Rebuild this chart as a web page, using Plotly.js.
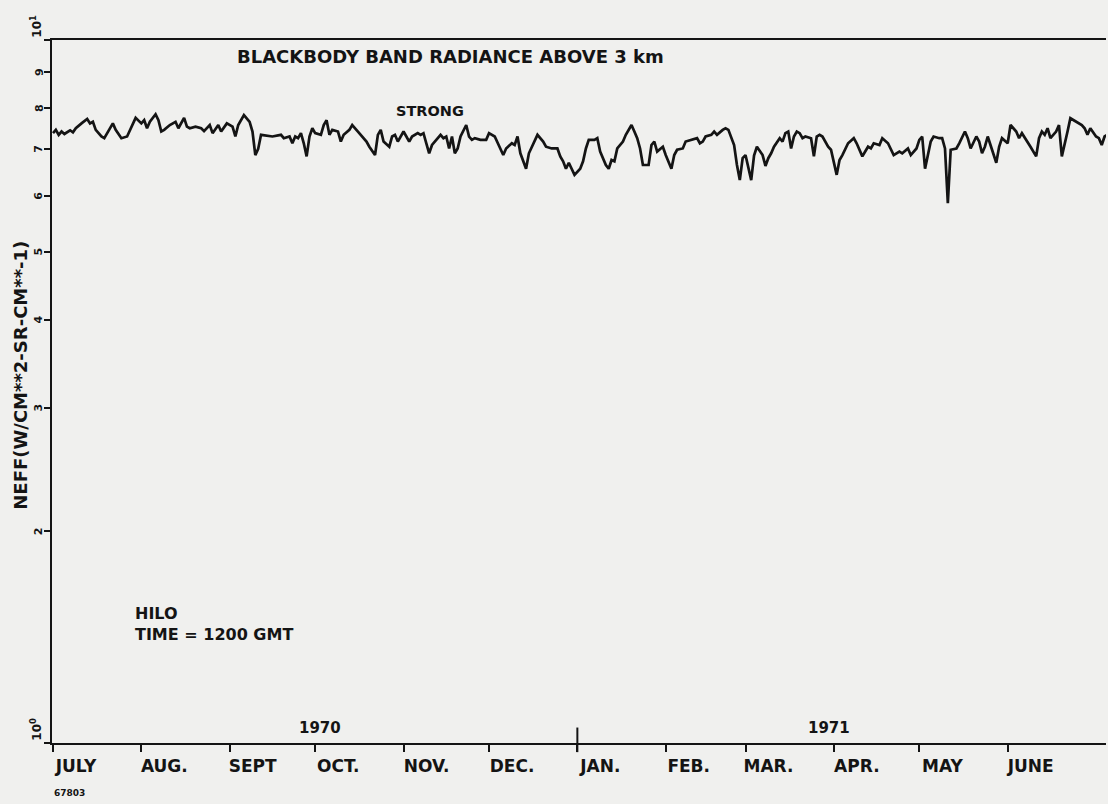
<!DOCTYPE html>
<html>
<head>
<meta charset="utf-8">
<script src="https://cdn.plot.ly/plotly-3.0.1.min.js"></script>
<style>html,body{margin:0;padding:0;background:#f0f0ee;}#chart{width:1108px;height:804px;}</style>
</head>
<body>
<div id="chart"></div>
<script>
// Days since 1 July 1970
const dayOffset = [0,1,2,3,4,6,7,8,10,12,13,14,15,17,18,20,21,22,24,26,28,29,31,32,33,34,36,37,38,39,41,43,44,46,47,48,50,52,53,55,56,58,59,61,63,64,65,66,67,69,70,71,72,73,75,77,80,81,83,84,85,86,87,88,89,90,91,92,94,95,96,97,98,100,101,102,104,105,107,108,110,111,113,114,115,116,118,119,120,121,122,123,124,125,126,128,129,130,131,132,133,135,136,137,138,139,140,141,142,143,145,146,147,148,150,152,153,155,157,158,159,161,162,163,164,166,167,169,170,172,173,175,177,178,179,180,181,183,185,186,187,188,190,191,192,194,195,196,197,198,200,201,203,204,205,206,207,209,210,211,212,214,215,217,218,219,221,222,224,226,227,228,229,231,232,233,235,236,237,238,239,240,241,242,243,245,246,247,248,249,250,251,252,253,255,256,257,258,259,260,261,262,263,264,266,267,268,269,270,272,273,274,275,276,277,279,281,282,284,285,286,287,288,290,291,293,294,295,297,298,300,301,303,304,305,306,308,309,311,312,313,314,315,317,318,320,321,322,324,325,326,327,328,329,331,332,333,335,336,338,339,340,342,343,345,346,347,348,349,350,352,353,354,355,356,357,359,361,362,363,364,366,367,368,369,370];
// NEFF, W/CM**2-SR-CM**-1
const neff = [7.37,7.45,7.33,7.41,7.35,7.44,7.39,7.49,7.61,7.72,7.61,7.65,7.45,7.29,7.25,7.49,7.61,7.45,7.25,7.29,7.57,7.75,7.61,7.69,7.49,7.65,7.84,7.69,7.41,7.45,7.57,7.65,7.49,7.75,7.53,7.49,7.53,7.49,7.42,7.57,7.37,7.57,7.41,7.61,7.53,7.29,7.57,7.69,7.82,7.65,7.41,6.86,7.00,7.33,7.31,7.29,7.33,7.25,7.29,7.13,7.29,7.25,7.37,7.13,6.83,7.29,7.49,7.37,7.33,7.57,7.69,7.33,7.45,7.41,7.17,7.33,7.45,7.57,7.41,7.33,7.17,7.05,6.86,7.33,7.45,7.17,7.05,7.29,7.33,7.17,7.29,7.41,7.29,7.17,7.29,7.37,7.33,7.37,7.13,6.90,7.09,7.25,7.33,7.25,7.29,7.01,7.29,6.90,7.01,7.29,7.57,7.29,7.21,7.25,7.21,7.21,7.37,7.29,7.01,6.86,7.01,7.13,7.09,7.29,6.90,6.56,6.90,7.17,7.33,7.17,7.05,7.01,7.01,6.83,6.72,6.56,6.69,6.43,6.56,6.72,7.01,7.21,7.21,7.25,6.94,6.64,6.56,6.75,6.72,7.01,7.17,7.33,7.57,7.41,7.25,7.01,6.64,6.64,7.09,7.17,6.94,7.05,6.86,6.56,6.86,6.98,7.01,7.17,7.21,7.25,7.13,7.17,7.29,7.33,7.41,7.33,7.45,7.49,7.45,7.29,7.09,6.64,6.32,6.79,6.86,6.32,6.85,7.05,6.94,6.86,6.62,6.79,6.90,7.05,7.25,7.17,7.37,7.41,7.01,7.29,7.41,7.37,7.25,7.29,7.25,6.83,7.29,7.33,7.29,7.05,6.98,6.72,6.43,6.75,6.86,7.13,7.25,7.13,6.83,6.94,7.05,7.01,7.13,7.09,7.25,7.13,7.01,6.86,6.94,6.90,7.01,6.86,7.01,7.21,7.29,6.56,7.17,7.29,7.25,7.25,7.01,5.86,6.98,7.01,7.13,7.41,7.25,7.01,7.29,7.17,6.90,7.05,7.29,7.09,6.69,7.05,7.25,7.13,7.57,7.41,7.25,7.37,7.17,7.05,6.83,7.25,7.41,7.33,7.49,7.25,7.41,7.57,6.83,7.09,7.41,7.74,7.65,7.57,7.49,7.33,7.49,7.29,7.25,7.09,7.29,7.33];

const monthTicks = ['1970-07-01','1970-08-01','1970-09-01','1970-10-01','1970-11-01','1970-12-01','1971-01-01','1971-02-01','1971-03-01','1971-04-01','1971-05-01','1971-06-01'];
const monthLabels = ['JULY','AUG.','SEPT','OCT.','NOV.','DEC.','JAN.','FEB.','MAR.','APR.','MAY','JUNE'];
const yTickVals = [1,2,3,4,5,6,7,8,9,10];
const yTickText = ['10<sup>0</sup>','2','3','4','5','6','7','8','9','10<sup>1</sup>'];
const yearLabels = ['1970','1971'];

const base = Date.UTC(1970, 6, 1);
const dates = dayOffset.map(d => new Date(base + d * 86400000).toISOString().slice(0, 10));

const ink = '#141414';
const fam = '"DejaVu Sans", Arial, sans-serif';
const bold = (size) => ({family: fam, size: size, color: ink, weight: 'bold'});

const trace = {
  x: dates, y: neff, type: 'scatter', mode: 'lines',
  line: {color: ink, width: 2.7, shape: 'linear'},
  hoverinfo: 'skip', showlegend: false
};

// rotated y tick labels (log axis: annotation y is log10 of the value)
const yTickAnn = yTickVals.map((v, i) => {
  const isDecade = (v === 1 || v === 10);
  return {
    text: yTickText[i], xref: 'paper', yref: 'y',
    x: isDecade ? -0.016 : -0.0125, y: Math.log10(v),
    xanchor: 'center', yanchor: isDecade ? 'bottom' : 'middle',
    textangle: -90, showarrow: false, font: bold(isDecade ? 12 : 11)
  };
});

const layout = {
  width: 1108, height: 804,
  margin: {l: 52, r: 2, t: 40, b: 61},
  paper_bgcolor: '#f0f0ee', plot_bgcolor: '#f0f0ee',
  title: {text: 'BLACKBODY BAND RADIANCE ABOVE 3 km', font: bold(18),
          x: 0.378, xanchor: 'center', xref: 'paper', y: 0.929, yanchor: 'middle'},
  xaxis: {
    type: 'date', range: ['1970-06-30 15:36', '1971-07-05 12:00'],
    tickmode: 'array', tickvals: monthTicks, ticktext: monthLabels,
    ticks: 'outside', ticklen: 7, tickwidth: 2, tickcolor: ink,
    showline: true, linewidth: 2, linecolor: ink, mirror: true,
    showgrid: false, zeroline: false, tickangle: 0,
    tickfont: bold(17), ticklabelshift: 23, ticklabelstandoff: 0
  },
  yaxis: {
    type: 'log', range: [0, 1],
    tickmode: 'array', tickvals: yTickVals, ticktext: yTickText,
    showticklabels: false,
    ticks: 'outside', ticklen: 6, tickwidth: 2, tickcolor: ink,
    showline: true, linewidth: 2, linecolor: ink,
    showgrid: false, zeroline: false
  },
  shapes: [
    {type: 'line', xref: 'x', yref: 'paper', x0: monthTicks[6], x1: monthTicks[6],
     y0: -0.013, y1: 0.022, line: {color: ink, width: 2}}
  ],
  annotations: yTickAnn.concat([
    {text: 'NEFF(W/CM**2-SR-CM**-1)', xref: 'paper', yref: 'paper', x: -0.030, y: 0.523,
     xanchor: 'center', yanchor: 'middle', textangle: -90, showarrow: false, font: bold(18)},
    {text: 'STRONG', xref: 'paper', yref: 'paper', x: 0.359, y: 0.899,
     xanchor: 'center', yanchor: 'middle', showarrow: false, font: bold(14.5)},
    {text: 'HILO<br>TIME = 1200 GMT', xref: 'paper', yref: 'paper', x: 0.077, y: 0.169,
     xanchor: 'left', yanchor: 'middle', align: 'left', showarrow: false, font: bold(16)},
    {text: yearLabels[0], xref: 'paper', yref: 'paper', x: 0.254, y: 0.021,
     xanchor: 'center', yanchor: 'middle', showarrow: false, font: bold(15)},
    {text: yearLabels[1], xref: 'paper', yref: 'paper', x: 0.737, y: 0.021,
     xanchor: 'center', yanchor: 'middle', showarrow: false, font: bold(15)},
    {text: '67803', xref: 'paper', yref: 'paper', x: 0.0, y: -0.071,
     xanchor: 'left', yanchor: 'middle', showarrow: false, font: bold(9)}
  ])
};

Plotly.newPlot('chart', [trace], layout, {displayModeBar: false, staticPlot: true});
</script>
</body>
</html>
